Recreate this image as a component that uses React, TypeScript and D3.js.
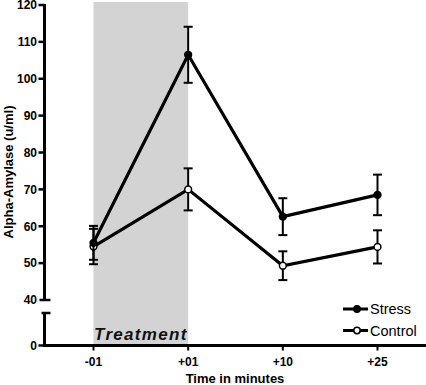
import React from "react";
import * as d3 from "d3";

const categories = ["-01", "+01", "+10", "+25"];
const stressMean = [55.5, 106.5, 62.6, 68.5];
const stressErr = [4.6, 7.6, 5.0, 5.5];
const controlMean = [54.5, 70.0, 49.3, 54.4];
const controlErr = [4.8, 5.7, 3.9, 4.5];
const yTicks = [40, 50, 60, 70, 80, 90, 100, 110, 120];
const shadeRange = ["-01", "+01"];

const W = 426;
const H = 385;
const axisX = 44.5;
const axisY = 345.5;
const FONT = "Liberation Sans, Arial, sans-serif";

export default function App() {
  const x = d3.scalePoint<string>().domain(categories).range([93.5, 377.5]);
  const y = d3.scaleLinear().domain([40, 120]).range([300, 5]);
  const line = d3
    .line<number>()
    .x((_, i) => x(categories[i]) as number)
    .y((d) => y(d));

  const renderSeries = (mean: number[], err: number[], filled: boolean, key: string) => (
    <g key={key}>
      <path d={line(mean) || ""} fill="none" stroke="#000" strokeWidth={3.2} strokeLinejoin="miter" />
      {mean.map((m, i) => {
        const cx = x(categories[i]) as number;
        return (
          <g key={i}>
            <line x1={cx} x2={cx} y1={y(m + err[i])} y2={y(m - err[i])} stroke="#000" strokeWidth={2} />
            <line x1={cx - 4.5} x2={cx + 4.5} y1={y(m + err[i])} y2={y(m + err[i])} stroke="#000" strokeWidth={2} />
            <line x1={cx - 4.5} x2={cx + 4.5} y1={y(m - err[i])} y2={y(m - err[i])} stroke="#000" strokeWidth={2} />
            <circle cx={cx} cy={y(m)} r={3.4} fill={filled ? "#000" : "#fff"} stroke="#000" strokeWidth={1.5} />
          </g>
        );
      })}
    </g>
  );

  const x0 = x(shadeRange[0]) as number;
  const x1 = x(shadeRange[1]) as number;

  return (
    <svg width={W} height={H} style={{ position: "absolute", left: 0, top: 0 }} fontFamily={FONT}>
      <rect x={0} y={0} width={W} height={H} fill="#fff" />
      <rect x={x0} y={2} width={x1 - x0} height={axisY - 2} fill="#d3d3d3" />
      <text x={(x0 + x1) / 2} y={340} textAnchor="middle" fontSize={17} fontWeight="bold" fontStyle="italic" letterSpacing={1.3} fill="#111">
        Treatment
      </text>

      {/* y axis upper */}
      <line x1={axisX} x2={axisX} y1={y(120) - 1} y2={y(40)} stroke="#000" strokeWidth={3} />
      {yTicks.map((t) => (
        <g key={t}>
          <line x1={t === 40 ? axisX - 5 : axisX - 6} x2={t === 40 ? axisX + 6 : axisX} y1={y(t)} y2={y(t)} stroke="#000" strokeWidth={2.5} />
          <text x={37} y={y(t) + 4.3} textAnchor="end" fontSize={12} fontWeight="bold">
            {t}
          </text>
        </g>
      ))}
      {/* y axis lower segment */}
      <line x1={axisX} x2={axisX} y1={313} y2={axisY} stroke="#000" strokeWidth={3} />
      <line x1={axisX - 3} x2={axisX + 6} y1={313} y2={313} stroke="#000" strokeWidth={2.5} />
      <line x1={axisX - 6} x2={axisX} y1={axisY} y2={axisY} stroke="#000" strokeWidth={2.5} />
      <text x={37} y={axisY + 4.3} textAnchor="end" fontSize={12} fontWeight="bold">
        0
      </text>

      {/* x axis */}
      <line x1={axisX - 1.5} x2={W} y1={axisY} y2={axisY} stroke="#000" strokeWidth={3} />
      {categories.map((c) => (
        <g key={c}>
          <line x1={x(c) as number} x2={x(c) as number} y1={axisY} y2={axisY + 5} stroke="#000" strokeWidth={2} />
          <text x={x(c) as number} y={366} textAnchor="middle" fontSize={12} fontWeight="bold">
            {c}
          </text>
        </g>
      ))}
      <text x={235} y={383} textAnchor="middle" fontSize={13} fontWeight="bold">
        Time in minutes
      </text>
      <text transform={`translate(13,172) rotate(-90)`} textAnchor="middle" fontSize={13} fontWeight="bold">
        Alpha-Amylase (u/ml)
      </text>

      {renderSeries(controlMean, controlErr, false, "control")}
      {renderSeries(stressMean, stressErr, true, "stress")}

      {/* legend */}
      {[
        { label: "Stress", filled: true, yy: 309 },
        { label: "Control", filled: false, yy: 330.5 },
      ].map((l) => (
        <g key={l.label}>
          <line x1={343} x2={368} y1={l.yy} y2={l.yy} stroke="#000" strokeWidth={3} />
          <circle cx={357} cy={l.yy} r={3.2} fill={l.filled ? "#000" : "#fff"} stroke="#000" strokeWidth={1.5} />
          <text x={370} y={l.yy + 5} fontSize={14.5}>
            {l.label}
          </text>
        </g>
      ))}
    </svg>
  );
}
